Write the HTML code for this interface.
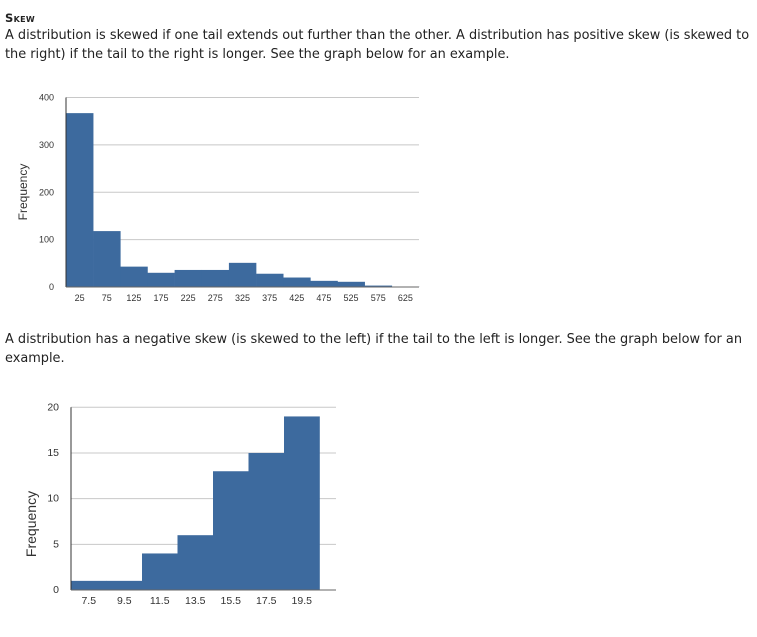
<!DOCTYPE html>
<html><head><meta charset="utf-8"><style>
body{margin:0;width:757px;height:637px;background:#fff;font-family:"DejaVu Sans",Verdana,sans-serif;color:#222;position:relative;overflow:hidden}
.t{position:absolute;left:5px;font-size:12.9px;line-height:19px;white-space:nowrap}
svg{position:absolute;left:0;top:0}
svg text{font-family:"Liberation Sans",Arial,sans-serif;fill:#333}
</style></head><body>
<div class="t" style="top:9px;font-weight:bold;font-size:11.5px;font-variant:small-caps;letter-spacing:0.3px">Skew</div>
<div class="t" style="top:26px">A distribution is skewed if one tail extends out further than the other. A distribution has positive skew (is skewed to<br>the right) if the tail to the right is longer. See the graph below for an example.</div>
<div class="t" style="top:330px">A distribution has a negative skew (is skewed to the left) if the tail to the left is longer. See the graph below for an<br>example.</div>
<svg id="c1" width="757" height="637"></svg>
<svg id="c2" width="757" height="637"></svg>
<script>
const cats1=["25","75","125","175","225","275","325","375","425","475","525","575","625"];
const vals1=[367,118,43,30,36,36,51,28,20,13,11,3,1];
const ticks1=[0,100,200,300,400];
const cats2=["7.5","9.5","11.5","13.5","15.5","17.5","19.5"];
const vals2=[1,1,4,6,13,15,19];
const ticks2=[0,5,10,15,20];
const NS="http://www.w3.org/2000/svg";
function mk(svg,tag,a,txt){const e=document.createElementNS(NS,tag);for(const k in a)e.setAttribute(k,a[k]);if(txt!==undefined)e.textContent=txt;svg.appendChild(e);return e;}
function draw(id,cats,vals,ticks,L,R,T,B,bw,fs,ylx,yly,lblFs,pref){
 const svg=document.getElementById(id);
 const max=ticks[ticks.length-1];
 const y=v=>B-(B-T)*v/max;
 const x=i=>L+i*bw;
 ticks.forEach(t=>{
  if(t>0){const g=mk(svg,'line',{x1:L,x2:R,y1:y(t),y2:y(t),stroke:'#c8c8c8','stroke-width':1});
  
  }
  const tl=mk(svg,'text',{x:L-12,y:y(t)+3,'text-anchor':'end','font-size':fs},String(t));
  
  
 });
 vals.forEach((v,i)=>{
  const r=mk(svg,'rect',{x:x(i),y:y(v),width:bw+0.3,height:B-y(v),fill:'#3d6a9e'});
  
  
  const tl=mk(svg,'text',{x:x(i)+bw/2,y:B+14,'text-anchor':'middle','font-size':fs},cats[i]);
  
  
 });
 const ax=mk(svg,'line',{x1:L,x2:L,y1:T,y2:B,stroke:'#333','stroke-width':1});
 
 
 const bx=mk(svg,'line',{x1:L,x2:R,y1:B,y2:B,stroke:'#666','stroke-width':1});
 
 
 const yt=mk(svg,'text',{x:ylx,y:yly,'text-anchor':'middle','font-size':lblFs,transform:`rotate(-90 ${ylx} ${yly})`},'Frequency');
 
 
}
draw('c1',cats1,vals1,ticks1,66,419,97.5,287,27.15,9,27,192,12,'chart1');
draw('c2',cats2,vals2,ticks2,71,336,407.3,590,35.5,10.5,36,524,14,'chart2');
</script>
</body></html>
